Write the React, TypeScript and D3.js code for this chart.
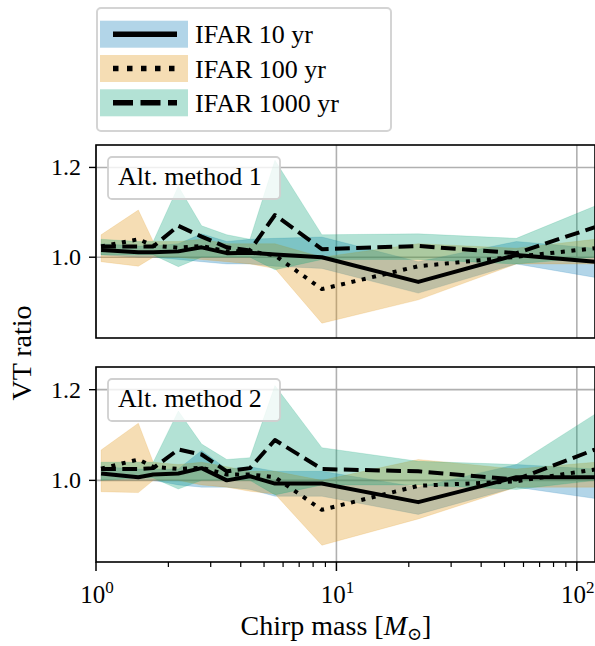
import { useEffect, useRef } from "react";
import * as d3 from "d3";

// chirp mass bin centres
const chirpMass = [1.05, 1.5, 1.73, 2.2, 2.75, 3.5, 4.37, 5.55, 8.7, 21.9, 56, 119];

// Alt. method 1
const m1Ifar10 = [1.016, 1.011, 1.011, 1.013, 1.022, 1.009, 1.01, 1.006, 1.0, 0.945, 1.005, 0.99];
const m1Ifar100 = [1.024, 1.04, 1.026, 1.021, 1.025, 1.013, 1.013, 1.004, 0.929, 0.98, 1.001, 1.02];
const m1Ifar1000 = [1.024, 1.024, 1.024, 1.07, 1.046, 1.022, 1.015, 1.094, 1.018, 1.025, 1.009, 1.067];
const m1Ifar10Lo = [1.005, 1.0, 1.0, 0.995, 0.99, 0.985, 0.985, 0.98, 0.975, 0.92, 0.985, 0.955];
const m1Ifar10Hi = [1.03, 1.025, 1.025, 1.03, 1.052, 1.035, 1.04, 1.042, 1.045, 0.99, 1.035, 1.02];
const m1Ifar100Lo = [0.99, 0.98, 1.0, 1.0, 0.995, 0.99, 0.985, 0.975, 0.853, 0.905, 0.985, 0.985];
const m1Ifar100Hi = [1.05, 1.105, 1.035, 1.035, 1.04, 1.03, 1.03, 1.03, 1.0, 1.03, 1.02, 1.04];
const m1Ifar1000Lo = [1.005, 1.005, 1.005, 0.979, 1.0, 1.0, 1.0, 0.972, 0.995, 0.995, 0.985, 1.0];
const m1Ifar1000Hi = [1.04, 1.035, 1.035, 1.158, 1.07, 1.05, 1.04, 1.216, 1.05, 1.052, 1.042, 1.114];

// Alt. method 2
const m2Ifar10 = [1.015, 1.007, 1.013, 1.015, 1.027, 1.0, 1.009, 0.993, 0.993, 0.952, 1.007, 1.007];
const m2Ifar100 = [1.026, 1.046, 1.03, 1.025, 1.028, 1.013, 1.013, 1.007, 0.935, 0.988, 0.998, 1.024];
const m2Ifar1000 = [1.025, 1.025, 1.027, 1.068, 1.057, 1.02, 1.027, 1.089, 1.025, 1.02, 1.002, 1.068];
const m2Ifar10Lo = [1.0, 1.0, 1.0, 0.99, 0.985, 0.985, 0.98, 0.965, 0.965, 0.925, 0.985, 0.96];
const m2Ifar10Hi = [1.03, 1.025, 1.025, 1.025, 1.066, 1.025, 1.03, 1.02, 1.02, 0.985, 1.035, 1.025];
const m2Ifar100Lo = [0.975, 0.973, 1.0, 1.0, 0.99, 0.985, 0.976, 0.97, 0.857, 0.915, 0.985, 0.985];
const m2Ifar100Hi = [1.067, 1.126, 1.04, 1.035, 1.04, 1.03, 1.02, 1.02, 1.0, 1.046, 1.025, 1.04];
const m2Ifar1000Lo = [1.0, 1.005, 1.005, 0.981, 1.0, 1.0, 1.0, 0.968, 0.99, 0.99, 0.98, 1.0];
const m2Ifar1000Hi = [1.04, 1.04, 1.04, 1.153, 1.08, 1.046, 1.05, 1.209, 1.072, 1.042, 1.035, 1.146];

const seriesNames = ["IFAR 10 yr", "IFAR 100 yr", "IFAR 1000 yr"];
const seriesColors = ["#0173B2", "#DE8F05", "#029E73"];
const yTicks = [1.0, 1.2];
const xMajor = [1, 10, 100];
const xTickExp = ["0", "1", "2"];

const FONT = "'Liberation Serif', 'DejaVu Serif', serif";

export default function App() {
  const ref = useRef<SVGSVGElement>(null);

  useEffect(() => {
    document.body.style.margin = "0";
    const svg = d3.select(ref.current);
    svg.selectAll("*").remove();

    const left = 96, right = 595;
    const x = d3.scaleLog().domain([1, 119]).range([left, right]);

    const dashes = [null, "4,6.6", "14.8,6.4"];

    const panels = [
      {
        top: 145, bottom: 338, label: "Alt. method 1",
        lines: [m1Ifar10, m1Ifar100, m1Ifar1000],
        lo: [m1Ifar10Lo, m1Ifar100Lo, m1Ifar1000Lo],
        hi: [m1Ifar10Hi, m1Ifar100Hi, m1Ifar1000Hi],
        showX: false,
      },
      {
        top: 367, bottom: 562, label: "Alt. method 2",
        lines: [m2Ifar10, m2Ifar100, m2Ifar1000],
        lo: [m2Ifar10Lo, m2Ifar100Lo, m2Ifar1000Lo],
        hi: [m2Ifar10Hi, m2Ifar100Hi, m2Ifar1000Hi],
        showX: true,
      },
    ];

    panels.forEach((p, pi) => {
      const y = d3.scaleLinear().domain([0.82, 1.25]).range([p.bottom, p.top]);
      const g = svg.append("g");
      const clipId = `clip${pi}`;
      g.append("clipPath").attr("id", clipId)
        .append("rect").attr("x", left).attr("y", p.top)
        .attr("width", right - left).attr("height", p.bottom - p.top);

      // grid
      xMajor.forEach(v => {
        g.append("line").attr("x1", x(v)).attr("x2", x(v))
          .attr("y1", p.top).attr("y2", p.bottom)
          .attr("stroke", "#b0b0b0").attr("stroke-width", 1.6);
      });
      yTicks.forEach(v => {
        g.append("line").attr("x1", left).attr("x2", right)
          .attr("y1", y(v)).attr("y2", y(v))
          .attr("stroke", "#b0b0b0").attr("stroke-width", 1.6);
      });

      const plot = g.append("g").attr("clip-path", `url(#${clipId})`);

      // bands
      p.lines.forEach((_, si) => {
        const area = d3.area<number>()
          .x((_d, i) => x(chirpMass[i]))
          .y0((_d, i) => y(p.lo[si][i]))
          .y1((_d, i) => y(p.hi[si][i]));
        plot.append("path").attr("d", area(chirpMass))
          .attr("fill", seriesColors[si]).attr("fill-opacity", 0.3)
          .attr("stroke", seriesColors[si]).attr("stroke-opacity", 0.15)
          .attr("stroke-width", 1);
      });

      // lines
      p.lines.forEach((vals, si) => {
        const line = d3.line<number>()
          .x((_d, i) => x(chirpMass[i]))
          .y(d => y(d));
        plot.append("path").attr("d", line(vals))
          .attr("fill", "none").attr("stroke", "#000")
          .attr("stroke-width", 4)
          .attr("stroke-dasharray", dashes[si])
          .attr("stroke-linejoin", "round");
      });

      // frame
      g.append("rect").attr("x", left).attr("y", p.top)
        .attr("width", right - left).attr("height", p.bottom - p.top)
        .attr("fill", "none").attr("stroke", "#000").attr("stroke-width", 1.6);

      // y ticks
      yTicks.forEach(v => {
        g.append("line").attr("x1", left - 7).attr("x2", left)
          .attr("y1", y(v)).attr("y2", y(v))
          .attr("stroke", "#000").attr("stroke-width", 1.4);
        g.append("text").attr("x", left - 15).attr("y", y(v) + 8)
          .attr("text-anchor", "end").attr("font-family", FONT)
          .attr("font-size", 24).text(d3.format(".1f")(v));
      });

      // x ticks
      if (p.showX) {
        const minor: number[] = [];
        [1, 10, 100].forEach(dec => {
          for (let k = 2; k <= 9; k++) if (dec * k <= 119) minor.push(dec * k);
        });
        minor.forEach(v => {
          g.append("line").attr("x1", x(v)).attr("x2", x(v))
            .attr("y1", p.bottom).attr("y2", p.bottom + 5)
            .attr("stroke", "#000").attr("stroke-width", 1.2);
        });
        xMajor.forEach((v, i) => {
          g.append("line").attr("x1", x(v)).attr("x2", x(v))
            .attr("y1", p.bottom).attr("y2", p.bottom + 9)
            .attr("stroke", "#000").attr("stroke-width", 1.5);
          const t = g.append("text").attr("x", x(v) + 1).attr("y", 603)
            .attr("text-anchor", "middle").attr("font-family", FONT)
            .attr("font-size", 25);
          t.append("tspan").text("10");
          t.append("tspan").attr("dy", -10).attr("font-size", 17).text(xTickExp[i]);
        });
      }

      // panel label box
      const by = p.top + 12;
      g.append("rect").attr("x", 108).attr("y", by)
        .attr("width", 172).attr("height", 42).attr("rx", 4)
        .attr("fill", "#fff").attr("fill-opacity", 0.8)
        .attr("stroke", "#d0d0d0").attr("stroke-width", 1.8);
      g.append("text").attr("x", 118).attr("y", by + 28)
        .attr("font-family", FONT).attr("font-size", 26).text(p.label);
    });

    // legend
    const lg = svg.append("g");
    lg.append("rect").attr("x", 97).attr("y", 8).attr("width", 294).attr("height", 123)
      .attr("rx", 4).attr("fill", "#fff").attr("stroke", "#d4d4d4").attr("stroke-width", 2);
    seriesNames.forEach((name, i) => {
      const ty = 20.7 + i * 34.3;
      lg.append("rect").attr("x", 100).attr("y", ty).attr("width", 88).attr("height", 27)
        .attr("fill", seriesColors[i]).attr("fill-opacity", 0.3);
      lg.append("line").attr("x1", 113).attr("x2", 177)
        .attr("y1", ty + 13.5).attr("y2", ty + 13.5)
        .attr("stroke", "#000").attr("stroke-width", 5.5)
        .attr("stroke-dasharray", i === 0 ? null : i === 1 ? "5.5,8.5" : "20,7.5");
      lg.append("text").attr("x", 195).attr("y", ty + 22.5)
        .attr("font-family", FONT).attr("font-size", 26).text(name);
    });

    // axis labels
    const xl = svg.append("text").attr("x", 336).attr("y", 635)
      .attr("text-anchor", "middle").attr("font-family", FONT).attr("font-size", 28);
    xl.append("tspan").text("Chirp mass [");
    xl.append("tspan").attr("font-style", "italic").text("M");
    xl.append("tspan").attr("dy", 5).attr("font-size", 18).text("\u2299");
    xl.append("tspan").attr("dy", -5).text("]");

    svg.append("text").attr("transform", "translate(31,353) rotate(-90)")
      .attr("text-anchor", "middle").attr("font-family", FONT).attr("font-size", 28)
      .text("VT ratio");
  }, []);

  return (
    <div>
      <svg ref={ref} width={595} height={646} style={{ display: "block" }} />
    </div>
  );
}
